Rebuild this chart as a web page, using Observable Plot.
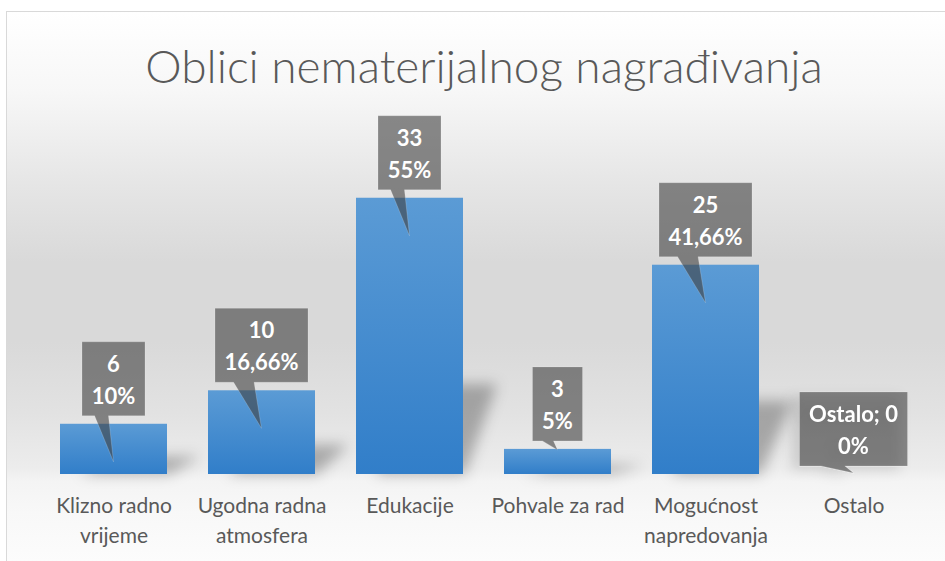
<!DOCTYPE html>
<html>
<head>
<meta charset="utf-8">
<script src="https://cdn.jsdelivr.net/npm/d3@7"></script>
<script src="https://cdn.jsdelivr.net/npm/@observablehq/plot@0.6"></script>
<style>
  html, body { margin: 0; padding: 0; background: #ffffff; }
  #wrap { position: relative; width: 945px; height: 561px; overflow: hidden; }
  #bg {
    position: absolute; left: 6px; top: 11px; width: 960px; height: 560px;
    border-left: 1px solid #d9d9d9; border-top: 1px solid #d9d9d9;
    background: linear-gradient(to bottom,
      #ffffff 0px, #f7f7f7 80px, #e6e6e6 170px, #d9d9d9 250px, #d9d9d9 330px,
      #e2e2e2 400px, #ececec 455px, #f4f4f4 470px, #f8f8f8 500px, #fcfcfc 550px);
  }
  #chart { position: absolute; left: 0; top: 0; }
</style>
</head>
<body>
<div id="wrap"><div id="bg"></div><div id="chart"></div></div>
<script>
const title = "Oblici nematerijalnog nagrađivanja";
const categories = ["Klizno radno vrijeme", "Ugodna radna atmosfera", "Edukacije", "Pohvale za rad", "Mogućnost napredovanja", "Ostalo"];
const tickLabels = ["Klizno radno\nvrijeme", "Ugodna radna\natmosfera", "Edukacije", "Pohvale za rad", "Mogućnost\nnapredovanja", "Ostalo"];
const counts = [6, 10, 33, 3, 25, 0];
const countLabels = ["6", "10", "33", "3", "25", "Ostalo; 0"];
const percentLabels = ["10%", "16,66%", "55%", "5%", "41,66%", "0%"];

const data = categories.map((c, i) => ({
  cat: c, count: counts[i], tick: tickLabels[i], line1: countLabels[i], line2: percentLabels[i]
}));
const tickOf = new Map(categories.map((c, i) => [c, tickLabels[i]]));

const labelFont = "Lato, 'Open Sans', sans-serif";
const ctx = document.createElement("canvas").getContext("2d");
ctx.font = "bold 22px Lato";
const measure = (s) => ctx.measureText(s).width;

function shadows(index, scales) {
  const x = scales.x, y = scales.y;
  const bw = x.bandwidth ? x.bandwidth() : 107;
  const g = d3.create("svg:g").attr("filter", "url(#softShadow)");
  data.forEach(d => {
    if (d.count <= 0) return;
    const x1 = x(d.cat), x2 = x1 + bw, base = y(0), top = y(d.count);
    const h = base - top;
    const rise = Math.min(h * 0.35, 90);
    g.append("polygon")
      .attr("points", [[x1 + 20, base], [x2 + 2, base], [x2 + 34, base - rise], [x1 + 50, base - rise]].map(p => p.join(",")).join(" "))
      .attr("fill", "#000").attr("fill-opacity", 0.28);
  });
  return g.node();
}

function callouts(index, scales) {
  const x = scales.x, y = scales.y;
  const bw = x.bandwidth ? x.bandwidth() : 107;
  const g = d3.create("svg:g");
  data.forEach(d => {
    const cx = x(d.cat) + bw / 2;
    const top = y(d.count), base = y(0);
    const h = base - top;
    const w = Math.round(Math.max(measure(d.line1), measure(d.line2)) + 19);
    const bh = 74;
    const bottom = top - 8;
    const left = cx - w / 2;
    const tipY = h > 40 ? top + 38 : (h > 0 ? top + 1 : base - 1);
    const grp = g.append("g").attr("filter", d.count === 0 ? "url(#boxShadow)" : null);
    grp.append("path")
      .attr("d", `M${left},${bottom - bh}H${left + w}V${bottom}H${left + 0.42 * w}L${cx},${tipY}L${left + 0.2 * w},${bottom}H${left}Z`)
      .attr("fill", "#404040").attr("fill-opacity", 0.6)
      .attr("stroke", "#ffffff").attr("stroke-opacity", 0.18).attr("stroke-width", 1);
    grp.append("text").attr("x", cx).attr("y", bottom - bh + 30)
      .attr("text-anchor", "middle").attr("fill", "#ffffff")
      .attr("font-family", labelFont).attr("font-weight", "bold").attr("font-size", 22)
      .text(d.line1);
    grp.append("text").attr("x", cx).attr("y", bottom - bh + 62)
      .attr("text-anchor", "middle").attr("fill", "#ffffff")
      .attr("font-family", labelFont).attr("font-weight", "bold").attr("font-size", 22)
      .text(d.line2);
  });
  return g.node();
}

const chart = Plot.plot({
  width: 945,
  height: 561,
  marginTop: 181,
  marginBottom: 87,
  marginLeft: 38,
  marginRight: 16,
  style: { background: "transparent", overflow: "visible" },
  x: { domain: categories, paddingInner: 0.28, paddingOuter: 0.14, axis: null },
  y: { domain: [0, 35], axis: null },
  marks: [
    shadows,
    Plot.barY(data, { x: "cat", y: "count", fill: "url(#barGrad)" }),
    Plot.axisX({
      label: null,
      tickSize: 0, tickPadding: 17, lineHeight: 1.43,
      tickFormat: d => tickOf.get(d),
      fontSize: 21, fontFamily: labelFont, fill: "#595959"
    }),
    callouts,
    Plot.text([title], {
      text: d => d, frameAnchor: "top", lineAnchor: "bottom", dy: -99,
      fontSize: 46, fontFamily: labelFont, fontWeight: 300, fill: "#595959"
    })
  ]
});

const svg = d3.select(chart);
const defs = svg.insert("defs", ":first-child");
const grad = defs.append("linearGradient").attr("id", "barGrad").attr("x1", 0).attr("y1", 0).attr("x2", 0).attr("y2", 1);
grad.append("stop").attr("offset", "0%").attr("stop-color", "#5b9bd5");
grad.append("stop").attr("offset", "100%").attr("stop-color", "#317ec9");
const f = defs.append("filter").attr("id", "softShadow").attr("x", "-50%").attr("y", "-50%").attr("width", "200%").attr("height", "200%");
f.append("feGaussianBlur").attr("stdDeviation", 7);
const f2 = defs.append("filter").attr("id", "boxShadow").attr("x", "-30%").attr("y", "-30%").attr("width", "160%").attr("height", "160%");
f2.append("feDropShadow").attr("dx", -8).attr("dy", 4).attr("stdDeviation", 6).attr("flood-color", "#000").attr("flood-opacity", 0.2);

document.getElementById("chart").appendChild(chart);
</script>
</body>
</html>
